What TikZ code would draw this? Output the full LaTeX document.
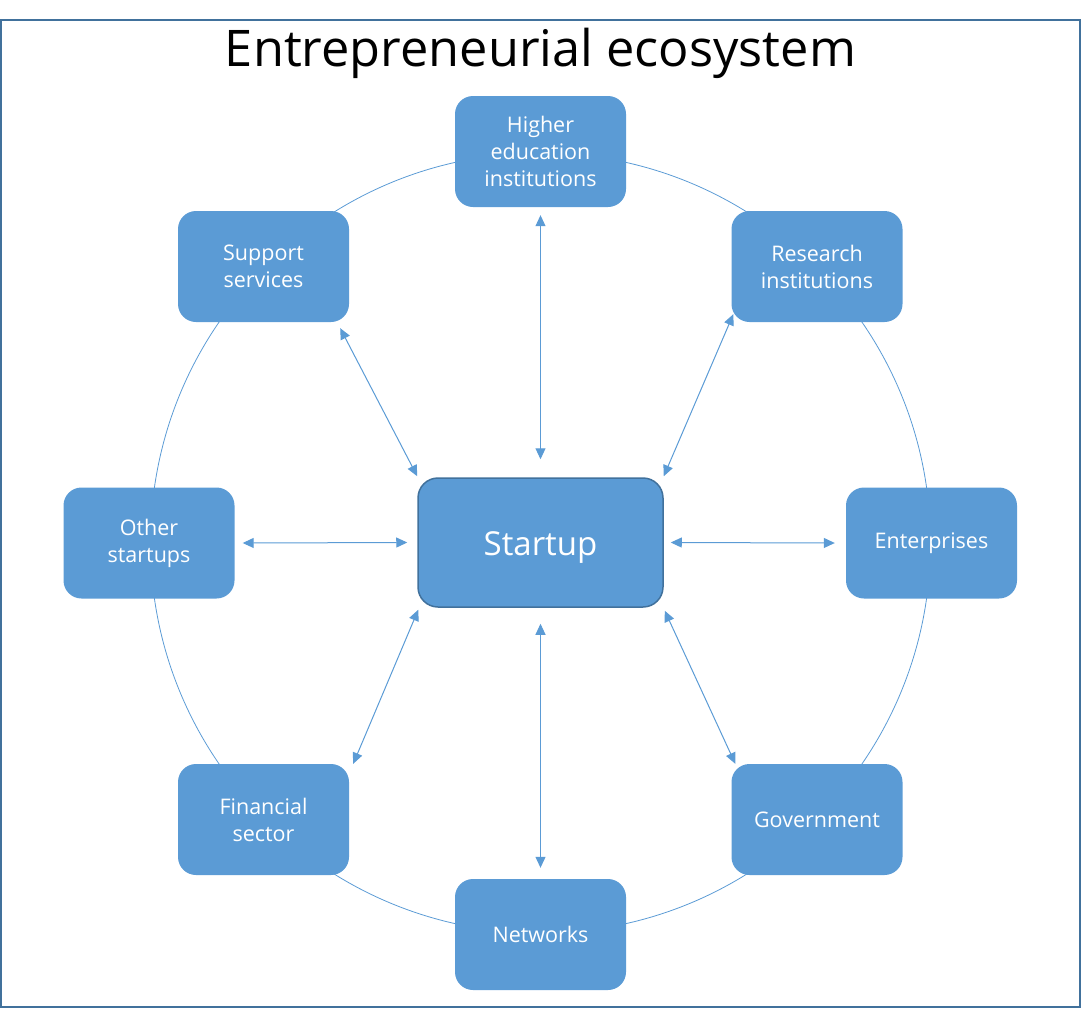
\documentclass[tikz,border=0pt]{standalone}
\usepackage{fontspec}
\setmainfont{Open Sans}
\usetikzlibrary{arrows.meta,calc}
\definecolor{nodeblue}{HTML}{5B9BD5}
\definecolor{darkblue}{HTML}{41719C}
\begin{document}
\begin{tikzpicture}[x=1pt,y=-1pt,
  box/.style={fill=nodeblue, rounded corners=18pt, minimum width=171pt, minimum height=111pt,
    text=white, font=\fontsize{21.5}{27}\selectfont, align=center, inner sep=0pt},
  hub/.style={fill=nodeblue, draw=darkblue, line width=1.5pt, rounded corners=20pt,
    minimum width=245pt, minimum height=129pt, text=white, font=\fontsize{33}{40}\selectfont, inner sep=0pt},
  link/.style={nodeblue, line width=1pt, {Triangle[length=11pt,width=10pt]}-{Triangle[length=11pt,width=10pt]}},
  ring/.style={nodeblue, line width=0.8pt}]
\useasboundingbox (0,0) rectangle (1081,1009);
\draw[darkblue, line width=2pt] (1,20) rectangle (1080,1007);
\node[font=\fontsize{50.5}{60}\selectfont] (title) at (540.5,53) {Entrepreneurial ecosystem};
\draw[ring] (540.5,543) circle[radius=390pt];
\node[box] (hei) at (540.5,151.5) {Higher\\education\\institutions};
\node[box] (sup) at (263.5,266.5) {Support\\services};
\node[box] (res) at (817,266.5) {Research\\institutions};
\node[box] (oth) at (149,543) {Other\\startups};
\node[box] (ent) at (931.5,543) {Enterprises};
\node[box] (fin) at (263.5,819.5) {Financial\\sector};
\node[box] (gov) at (817,819.5) {Government};
\node[box] (net) at (540.5,934.5) {Networks};
\node[hub, text depth=0pt] (st) at (540.5,542.5) {\raisebox{-3pt}{Startup}};
\draw[link] ($(hei.south)+(0,8)$) -- ($(st.north)+(0,-18)$);
\draw[link] ($(st.south)+(0,16)$) -- ($(net.north)+(0,-11)$);
\draw[link] ($(oth.east)+(8,0)$) -- ($(st.west)+(-10,0)$);
\draw[link] ($(st.east)+(7,0)$) -- ($(ent.west)+(-11,0)$);
\draw[link] ($(sup.south east)+(-9,6)$) -- ($(st.north west)+(0,-1)$);
\draw[link] ($(res.south west)+(2,-8)$) -- ($(st.north east)+(0,-1)$);
\draw[link] ($(fin.north east)+(4,0)$) -- ($(st.south west)+(1,2)$);
\draw[link] ($(gov.north west)+(4,0)$) -- ($(st.south east)+(1,3)$);
\end{tikzpicture}
\end{document}
